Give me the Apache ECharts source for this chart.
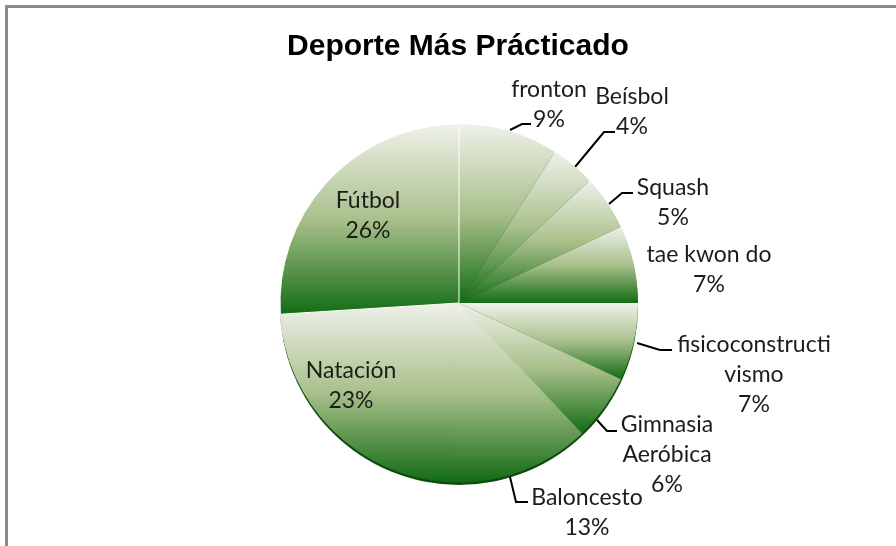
<!DOCTYPE html>
<html><head><meta charset="utf-8">
<style>html,body{margin:0;padding:0;background:#fff}#c{width:896px;height:546px}</style>
<script src="https://cdn.jsdelivr.net/npm/echarts@6/dist/echarts.min.js"></script>
</head><body><div id="c"></div>
<script>
const categories = ['fronton','Beísbol','Squash','tae kwon do','fisicoconstructi\nvismo','Gimnasia\nAeróbica','Baloncesto','Natación','Fútbol'];
const percents = [9,4,5,7,7,6,13,23,26];
const titleText = 'Deporte Más Prácticado';
// label block centres and leader lines (annotation layout, not data)
const labelSpots = [[549,105],[632,112],[673,203],[709,270],[754,375],[667,455],[587,513],[351,386],[368,216]];
const leaders = [
  [[510,130],[522,124],[531,124]],
  [[575,167],[604,132],[615,132]],
  [[609,204],[622,193],[633,193]],
  null,
  [[637,343],[660,350],[672,350]],
  [[597,420],[607,431],[617,431]],
  [[510,477],[516,502],[528,502]],
  null,
  null
];
const slice = {type:'linear',x:0,y:0,x2:0,y2:1,colorStops:[
  {offset:0,color:'#eff1ea'},{offset:0.5,color:'#a9c08b'},{offset:1,color:'#136c14'}]};
const center = [459,303], radius = 179;
const seamless = ['Baloncesto','Natación'];
const chart = echarts.init(document.getElementById('c'),null,{renderer:'canvas'});
function sliceStyle(name,i){
  if(i===categories.length-1) return {color:slice,borderColor:'#fff',borderWidth:1};
  if(seamless.includes(name)) return {color:slice,borderColor:slice,borderWidth:1};
  return {color:slice,borderWidth:0};
}
chart.setOption({
  backgroundColor:'#fff',
  animation:false,
  title:{text:titleText,left:453,top:27,textAlign:'center',
    textStyle:{fontFamily:'Liberation Sans',fontWeight:'bold',fontSize:30,color:'#000'}},
  graphic:[
    {type:'rect',silent:true,shape:{x:5,y:5,width:891,height:3},style:{fill:'#8c8c8c'}},
    {type:'rect',silent:true,shape:{x:5,y:5,width:3,height:541},style:{fill:'#8c8c8c'}}
  ],
  series:[
    {type:'pie',silent:true,z:1,center:[center[0],center[1]+3],radius:radius,
     label:{show:false},labelLine:{show:false},
     data:[{value:percents.reduce((a,b)=>a+b,0),itemStyle:{color:'#0b4d0e'}}]},
    {type:'pie',z:2,silent:true,center:center,radius:radius,startAngle:90,clockwise:true,
     avoidLabelOverlap:false,
     label:{show:true,position:'outside',formatter:'{b}\n{c}%',
       fontFamily:'Lato',fontSize:23,lineHeight:30,color:'#1c1c1c',align:'center'},
     labelLine:{show:true,lineStyle:{color:'#000',width:2}},
     labelLayout:function(p){
       const s=labelSpots[p.dataIndex], l=leaders[p.dataIndex];
       const r={x:s[0],y:s[1],align:'center',verticalAlign:'middle'};
       if(l) r.labelLinePoints=l;
       return r;
     },
     data:categories.map((n,i)=>({name:n,value:percents[i],
       labelLine:{show:!!leaders[i]},
       itemStyle:sliceStyle(n,i)}))}
  ]
});
</script></body></html>
